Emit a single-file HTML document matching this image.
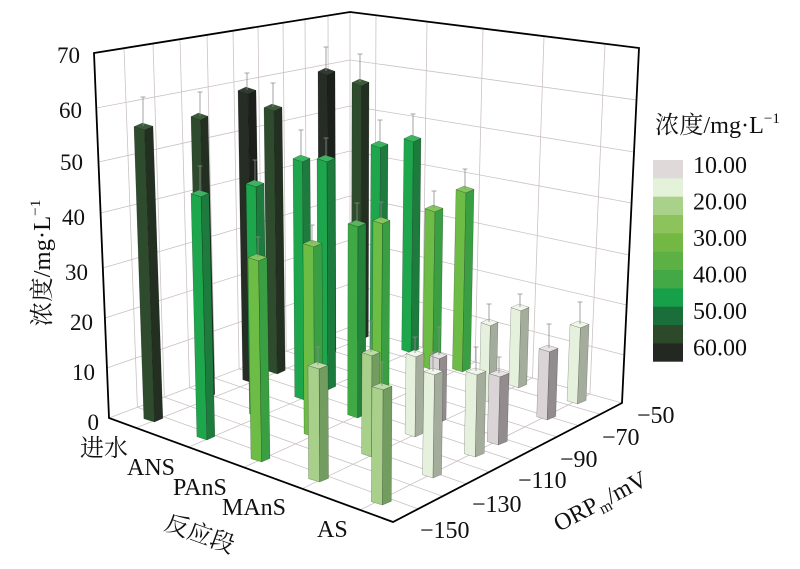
<!DOCTYPE html>
<html><head><meta charset="utf-8">
<style>
html,body{margin:0;padding:0;background:#fff;}
svg{display:block;}
text{font-family:"Liberation Serif","Noto Serif CJK SC",serif;fill:#111;}
.g line{stroke:#cbc2c2;stroke-width:.8;}
.b path{stroke:#000;stroke-opacity:.35;stroke-width:.5;vector-effect:non-scaling-stroke;}
.dk60 .L{fill:#262d25}.dk60 .R{fill:#1b201b}.dk60 .T{fill:#323b31}
.dk55 .L{fill:#2e4c2d}.dk55 .R{fill:#222f21}.dk55 .T{fill:#3b5b3a}
.g45 .L{fill:#1ea64c}.g45 .R{fill:#1d7b3d}.g45 .T{fill:#3ab55f}
.g40 .L{fill:#3fa946}.g40 .R{fill:#25823a}.g40 .T{fill:#55b65b}
.g35 .L{fill:#6cbc45}.g35 .R{fill:#3a9e42}.g35 .T{fill:#82c75d}
.g20 .L{fill:#a8d08b}.g20 .R{fill:#739c61}.g20 .T{fill:#bcdca5}
.g15 .L{fill:#e5f1dc}.g15 .R{fill:#a4ad9c}.g15 .T{fill:#f0f7ea}
.gr10 .L{fill:#dad4d6}.gr10 .R{fill:#928c8e}.gr10 .T{fill:#e8e4e5}
.e{stroke:#8c8c8c;stroke-width:.8;fill:none;}
</style></head>
<body>
<svg width="800" height="569" viewBox="0 0 800 569" xmlns="http://www.w3.org/2000/svg">
<rect width="800" height="569" fill="#fff"/>
<g class="g">
<!-- left wall horizontals -->
<line x1="96.3" y1="108" x2="350" y2="60"/>
<line x1="98.5" y1="162" x2="350" y2="106"/>
<line x1="100.6" y1="213" x2="350" y2="151"/>
<line x1="102.8" y1="268" x2="350" y2="196"/>
<line x1="104.9" y1="318" x2="350" y2="240"/>
<line x1="106.9" y1="368" x2="350" y2="284"/>
<line x1="109" y1="418" x2="350" y2="327"/>
<!-- left wall verticals -->
<line x1="124" y1="48.2" x2="137.4" y2="407.3"/>
<line x1="153" y1="43.6" x2="164.3" y2="397.1"/>
<line x1="180" y1="39.2" x2="189.5" y2="387.6"/>
<line x1="207" y1="34.9" x2="214.7" y2="378.1"/>
<line x1="233" y1="30.7" x2="239.1" y2="368.9"/>
<line x1="258" y1="26.7" x2="262.6" y2="360"/>
<line x1="283" y1="22.7" x2="286.2" y2="351"/>
<line x1="305" y1="19.2" x2="307" y2="343.2"/>
<line x1="328" y1="15.5" x2="328.9" y2="335"/>
<line x1="350" y1="12" x2="350" y2="327"/>
<!-- right wall horizontals -->
<line x1="350" y1="60" x2="636.5" y2="100"/>
<line x1="350" y1="106" x2="634" y2="152"/>
<line x1="350" y1="151" x2="631.6" y2="203"/>
<line x1="350" y1="196" x2="629.1" y2="255"/>
<line x1="350" y1="240" x2="626.7" y2="305"/>
<line x1="350" y1="284" x2="624.3" y2="355"/>
<line x1="350" y1="327" x2="622" y2="403"/>
<!-- right wall verticals -->
<line x1="376" y1="15.2" x2="374.5" y2="333.8"/>
<line x1="427" y1="21.6" x2="422.4" y2="347.2"/>
<line x1="483" y1="28.6" x2="475.1" y2="362"/>
<line x1="544" y1="36.2" x2="532.5" y2="378"/>
<line x1="605" y1="43.8" x2="589.9" y2="394"/>
<!-- floor const ORP -->
<line x1="137.4" y1="407.3" x2="418.2" y2="508.9"/>
<line x1="164.3" y1="397.1" x2="442.7" y2="496.2"/>
<line x1="189.5" y1="387.6" x2="466.3" y2="483.9"/>
<line x1="214.7" y1="378.1" x2="489.2" y2="472"/>
<line x1="239.1" y1="368.9" x2="512.1" y2="460.1"/>
<line x1="262.6" y1="360" x2="534.5" y2="448.5"/>
<line x1="286.2" y1="351" x2="556.7" y2="436.9"/>
<line x1="307" y1="343.2" x2="578.5" y2="425.6"/>
<line x1="328.9" y1="335" x2="600.2" y2="414.3"/>
<!-- floor const category -->
<line x1="136" y1="427.9" x2="374.5" y2="333.8"/>
<line x1="188.5" y1="447.1" x2="422.4" y2="347.2"/>
<line x1="243.9" y1="467.4" x2="475.1" y2="362"/>
<line x1="302.1" y1="488.7" x2="532.5" y2="378"/>
<line x1="360.3" y1="510" x2="589.9" y2="394"/>
</g>
<path d="M94 53L350 12L639 48L622 403L393 522L109 418Z" fill="none" stroke="#000" stroke-width="1.8" stroke-linejoin="miter"/>

<!-- bars back to front -->
<g class="b dk55" transform="translate(352,82.6) skewX(-0.14) scale(0.944,1)"><path class="L" d="M0 0L10 3.3V257.4L0 254.1Z"/><path class="R" d="M10 3.3L18 -0.3V253.8L10 257.4Z"/><path class="T" d="M0 0L10 3.3L18 -0.3L8 -3.6Z"/></g>
<path class="e" d="M360 82V54M357.5 54H362.5"/>
<g class="b dk60" transform="translate(318,71.6) skewX(0.19) scale(0.944,1)"><path class="L" d="M0 0L10 3.3V283.4L0 280.1Z"/><path class="R" d="M10 3.3L18 -0.3V279.8L10 283.4Z"/><path class="T" d="M0 0L10 3.3L18 -0.3L8 -3.6Z"/></g>
<path class="e" d="M326 71V47M323.5 47H328.5"/>
<g class="b g45" transform="translate(404,138.6) skewX(-0.64) scale(0.944,1)"><path class="L" d="M0 0L10 3.3V214.4L0 211.1Z"/><path class="R" d="M10 3.3L18 -0.3V210.8L10 214.4Z"/><path class="T" d="M0 0L10 3.3L18 -0.3L8 -3.6Z"/></g>
<path class="e" d="M413 138V114M410.5 114H415.5"/>
<g class="b g45" transform="translate(371,144.6) skewX(-0.32) scale(0.944,1)"><path class="L" d="M0 0L10 3.3V217.4L0 214.1Z"/><path class="R" d="M10 3.3L18 -0.3V213.8L10 217.4Z"/><path class="T" d="M0 0L10 3.3L18 -0.3L8 -3.6Z"/></g>
<path class="e" d="M380 144V120M377.5 120H382.5"/>
<g class="b g35" transform="translate(425,208.6) skewX(-0.84)"><path class="L" d="M0 0L10 3.3V161.4L0 158.1Z"/><path class="R" d="M10 3.3L18 -0.3V157.8L10 161.4Z"/><path class="T" d="M0 0L10 3.3L18 -0.3L8 -3.6Z"/></g>
<path class="e" d="M434 208V191M431.5 191H436.5"/>
<g class="b g35" transform="translate(456,189.6) skewX(-1.14)"><path class="L" d="M0 0L10 3.3V182.4L0 179.1Z"/><path class="R" d="M10 3.3L18 -0.3V178.8L10 182.4Z"/><path class="T" d="M0 0L10 3.3L18 -0.3L8 -3.6Z"/></g>
<path class="e" d="M465 189V169M462.5 169H467.5"/>
<g class="b dk55" transform="translate(264,107.6) skewX(0.70)"><path class="L" d="M0 0L10 3.3V266.4L0 263.1Z"/><path class="R" d="M10 3.3L18 -0.3V262.8L10 266.4Z"/><path class="T" d="M0 0L10 3.3L18 -0.3L8 -3.6Z"/></g>
<path class="e" d="M273 107V83M270.5 83H275.5"/>
<g class="b dk60" transform="translate(238,90.6) skewX(0.95)"><path class="L" d="M0 0L10 3.3V292.4L0 289.1Z"/><path class="R" d="M10 3.3L18 -0.3V288.8L10 292.4Z"/><path class="T" d="M0 0L10 3.3L18 -0.3L8 -3.6Z"/></g>
<path class="e" d="M247 90V73M244.5 73H249.5"/>
<g class="b g15" transform="translate(511,307.6) skewX(-1.66)"><path class="L" d="M0 0L10 3.3V80.4L0 77.1Z"/><path class="R" d="M10 3.3L18 -0.3V76.8L10 80.4Z"/><path class="T" d="M0 0L10 3.3L18 -0.3L8 -3.6Z"/></g>
<path class="e" d="M520 307V294M517.5 294H522.5"/>
<g class="b g45" transform="translate(317,158.6) skewX(0.19)"><path class="L" d="M0 0L10 3.3V231.4L0 228.1Z"/><path class="R" d="M10 3.3L18 -0.3V227.8L10 231.4Z"/><path class="T" d="M0 0L10 3.3L18 -0.3L8 -3.6Z"/></g>
<path class="e" d="M326 158V138M323.5 138H328.5"/>
<g class="b g45" transform="translate(293,158.6) skewX(0.42) scale(0.944,1)"><path class="L" d="M0 0L10 3.3V241.4L0 238.1Z"/><path class="R" d="M10 3.3L18 -0.3V237.8L10 241.4Z"/><path class="T" d="M0 0L10 3.3L18 -0.3L8 -3.6Z"/></g>
<path class="e" d="M301 158V130M298.5 130H303.5"/>
<g class="b dk55" transform="translate(191,116.6) skewX(1.40) scale(0.944,1)"><path class="L" d="M0 0L10 3.3V281.4L0 278.1Z"/><path class="R" d="M10 3.3L18 -0.3V277.8L10 281.4Z"/><path class="T" d="M0 0L10 3.3L18 -0.3L8 -3.6Z"/></g>
<path class="e" d="M200 116V92M197.5 92H202.5"/>
<g class="b g15" transform="translate(481,322.6) skewX(-1.37) scale(0.944,1)"><path class="L" d="M0 0L10 3.3V79.4L0 76.1Z"/><path class="R" d="M10 3.3L18 -0.3V75.8L10 79.4Z"/><path class="T" d="M0 0L10 3.3L18 -0.3L8 -3.6Z"/></g>
<path class="e" d="M489 322V304M486.5 304H491.5"/>
<g class="b g15" transform="translate(570,324.6) skewX(-2.23) scale(1.056,1)"><path class="L" d="M0 0L10 3.3V79.4L0 76.1Z"/><path class="R" d="M10 3.3L18 -0.3V75.8L10 79.4Z"/><path class="T" d="M0 0L10 3.3L18 -0.3L8 -3.6Z"/></g>
<path class="e" d="M580 324V302M577.5 302H582.5"/>
<g class="b g35" transform="translate(373,220.6) skewX(-0.34) scale(0.944,1)"><path class="L" d="M0 0L10 3.3V184.4L0 181.1Z"/><path class="R" d="M10 3.3L18 -0.3V180.8L10 184.4Z"/><path class="T" d="M0 0L10 3.3L18 -0.3L8 -3.6Z"/></g>
<path class="e" d="M381 220V202M378.5 202H383.5"/>
<g class="b g45" transform="translate(246,183.6) skewX(0.87)"><path class="L" d="M0 0L10 3.3V233.4L0 230.1Z"/><path class="R" d="M10 3.3L18 -0.3V229.8L10 233.4Z"/><path class="T" d="M0 0L10 3.3L18 -0.3L8 -3.6Z"/></g>
<path class="e" d="M255 183V160M252.5 160H257.5"/>
<g class="b g40" transform="translate(348,223.6) skewX(-0.11)"><path class="L" d="M0 0L10 3.3V194.4L0 191.1Z"/><path class="R" d="M10 3.3L18 -0.3V190.8L10 194.4Z"/><path class="T" d="M0 0L10 3.3L18 -0.3L8 -3.6Z"/></g>
<path class="e" d="M357 223V203M354.5 203H359.5"/>
<g class="b gr10" transform="translate(539,348.6) skewX(-1.93) scale(1.056,1)"><path class="L" d="M0 0L10 3.3V71.4L0 68.1Z"/><path class="R" d="M10 3.3L18 -0.3V67.8L10 71.4Z"/><path class="T" d="M0 0L10 3.3L18 -0.3L8 -3.6Z"/></g>
<path class="e" d="M549 348V324M546.5 324H551.5"/>
<g class="b dk55" transform="translate(134,126.6) skewX(1.93) scale(1.056,1)"><path class="L" d="M0 0L10 3.3V295.4L0 292.1Z"/><path class="R" d="M10 3.3L18 -0.3V291.8L10 295.4Z"/><path class="T" d="M0 0L10 3.3L18 -0.3L8 -3.6Z"/></g>
<path class="e" d="M143 126V97M140.5 97H145.5"/>
<g class="b gr10" transform="translate(430,355.6) skewX(-0.88) scale(0.944,1)"><path class="L" d="M0 0L10 3.3V67.4L0 64.1Z"/><path class="R" d="M10 3.3L18 -0.3V63.8L10 67.4Z"/><path class="T" d="M0 0L10 3.3L18 -0.3L8 -3.6Z"/></g>
<path class="e" d="M439 355V327M436.5 327H441.5"/>
<g class="b g15" transform="translate(406,353.6) skewX(-0.66)"><path class="L" d="M0 0L10 3.3V83.4L0 80.1Z"/><path class="R" d="M10 3.3L18 -0.3V79.8L10 83.4Z"/><path class="T" d="M0 0L10 3.3L18 -0.3L8 -3.6Z"/></g>
<path class="e" d="M415 353V337M412.5 337H417.5"/>
<g class="b g35" transform="translate(303,243.6) skewX(0.32) scale(1.056,1)"><path class="L" d="M0 0L10 3.3V193.4L0 190.1Z"/><path class="R" d="M10 3.3L18 -0.3V189.8L10 193.4Z"/><path class="T" d="M0 0L10 3.3L18 -0.3L8 -3.6Z"/></g>
<path class="e" d="M312 243V225M309.5 225H314.5"/>
<g class="b g45" transform="translate(191,193.6) skewX(1.39)"><path class="L" d="M0 0L10 3.3V246.4L0 243.1Z"/><path class="R" d="M10 3.3L18 -0.3V242.8L10 246.4Z"/><path class="T" d="M0 0L10 3.3L18 -0.3L8 -3.6Z"/></g>
<path class="e" d="M200 193V166M197.5 166H202.5"/>
<g class="b gr10" transform="translate(489,373.6) skewX(-1.46) scale(1.111,1)"><path class="L" d="M0 0L10 3.3V71.4L0 68.1Z"/><path class="R" d="M10 3.3L18 -0.3V67.8L10 71.4Z"/><path class="T" d="M0 0L10 3.3L18 -0.3L8 -3.6Z"/></g>
<path class="e" d="M499 373V357M496.5 357H501.5"/>
<g class="b g15" transform="translate(466,371.6) skewX(-1.24) scale(1.111,1)"><path class="L" d="M0 0L10 3.3V85.4L0 82.1Z"/><path class="R" d="M10 3.3L18 -0.3V81.8L10 85.4Z"/><path class="T" d="M0 0L10 3.3L18 -0.3L8 -3.6Z"/></g>
<path class="e" d="M476 371V347M473.5 347H478.5"/>
<g class="b g20" transform="translate(362,352.6) skewX(-0.24)"><path class="L" d="M0 0L10 3.3V104.4L0 101.1Z"/><path class="R" d="M10 3.3L18 -0.3V100.8L10 104.4Z"/><path class="T" d="M0 0L10 3.3L18 -0.3L8 -3.6Z"/></g>
<path class="e" d="M371 352V321M368.5 321H373.5"/>
<g class="b g35" transform="translate(248,257.6) skewX(0.85) scale(1.056,1)"><path class="L" d="M0 0L10 3.3V204.4L0 201.1Z"/><path class="R" d="M10 3.3L18 -0.3V200.8L10 204.4Z"/><path class="T" d="M0 0L10 3.3L18 -0.3L8 -3.6Z"/></g>
<path class="e" d="M258 257V237M255.5 237H260.5"/>
<g class="b g15" transform="translate(424,371.6) skewX(-0.84) scale(1.056,1)"><path class="L" d="M0 0L10 3.3V106.4L0 103.1Z"/><path class="R" d="M10 3.3L18 -0.3V102.8L10 106.4Z"/><path class="T" d="M0 0L10 3.3L18 -0.3L8 -3.6Z"/></g>
<path class="e" d="M433 371V352M430.5 352H435.5"/>
<g class="b g20" transform="translate(308,365.6) skewX(0.27) scale(1.111,1)"><path class="L" d="M0 0L10 3.3V116.4L0 113.1Z"/><path class="R" d="M10 3.3L18 -0.3V112.8L10 116.4Z"/><path class="T" d="M0 0L10 3.3L18 -0.3L8 -3.6Z"/></g>
<path class="e" d="M318 365V347M315.5 347H320.5"/>
<g class="b g20" transform="translate(372,386.6) skewX(-0.34) scale(1.111,1)"><path class="L" d="M0 0L10 3.3V118.4L0 115.1Z"/><path class="R" d="M10 3.3L18 -0.3V114.8L10 118.4Z"/><path class="T" d="M0 0L10 3.3L18 -0.3L8 -3.6Z"/></g>
<path class="e" d="M382 386V362M379.5 362H384.5"/>

<!-- Y tick labels -->
<g font-size="23" text-anchor="end">
<text x="80" y="63">70</text>
<text x="82" y="118">60</text>
<text x="83" y="170">50</text>
<text x="85" y="225">40</text>
<text x="88" y="280">30</text>
<text x="93" y="330">20</text>
<text x="95" y="380">10</text>
<text x="99" y="430">0</text>
</g>
<!-- Y title -->
<text transform="translate(50,263) rotate(-90)" text-anchor="middle" font-size="24" textLength="127" lengthAdjust="spacingAndGlyphs">浓度/mg·L<tspan dy="-10" font-size="15">−1</tspan></text>

<!-- category labels -->
<g font-size="24">
<text x="80" y="456">进水</text>
<text x="127" y="475">ANS</text>
<text x="173" y="495">PAnS</text>
<text x="222" y="515">MAnS</text>
<text x="317" y="537">AS</text>
</g>
<text transform="translate(200,533) rotate(20)" y="9" text-anchor="middle" font-size="24">反应段</text>

<!-- ORP labels -->
<g font-size="24">
<text x="637" y="423">−50</text>
<text x="602" y="445">−70</text>
<text x="560" y="467">−90</text>
<text x="518" y="488">−110</text>
<text x="472" y="512">−130</text>
<text x="420" y="538">−150</text>
</g>
<text transform="translate(559,532) rotate(-28)" font-size="24">ORP<tspan font-size="16" dy="5">m</tspan><tspan dy="-5">/mV</tspan></text>

<!-- colorbar -->
<text x="655" y="133" font-size="24" textLength="125" lengthAdjust="spacingAndGlyphs">浓度/mg·L<tspan dy="-10" font-size="15">−1</tspan></text>
<rect x="653" y="160" width="30" height="18.6" fill="#dfd9da"/>
<rect x="653" y="178.4" width="30" height="18.6" fill="#e5f2da"/>
<rect x="653" y="196.7" width="30" height="18.6" fill="#a9d18a"/>
<rect x="653" y="215" width="30" height="18.6" fill="#8cc45b"/>
<rect x="653" y="233.4" width="30" height="18.6" fill="#72b843"/>
<rect x="653" y="251.7" width="30" height="18.6" fill="#5db043"/>
<rect x="653" y="270" width="30" height="18.6" fill="#43a846"/>
<rect x="653" y="288.4" width="30" height="18.6" fill="#17a04a"/>
<rect x="653" y="306.7" width="30" height="18.6" fill="#1a6e3a"/>
<rect x="653" y="325" width="30" height="18.6" fill="#2c4a2a"/>
<rect x="653" y="343.4" width="30" height="18.3" fill="#232822"/>
<g font-size="24">
<text x="693" y="173">10.00</text>
<text x="693" y="209.5">20.00</text>
<text x="693" y="246">30.00</text>
<text x="693" y="282.5">40.00</text>
<text x="693" y="319">50.00</text>
<text x="693" y="355.5">60.00</text>
</g>
</svg>
</body></html>
